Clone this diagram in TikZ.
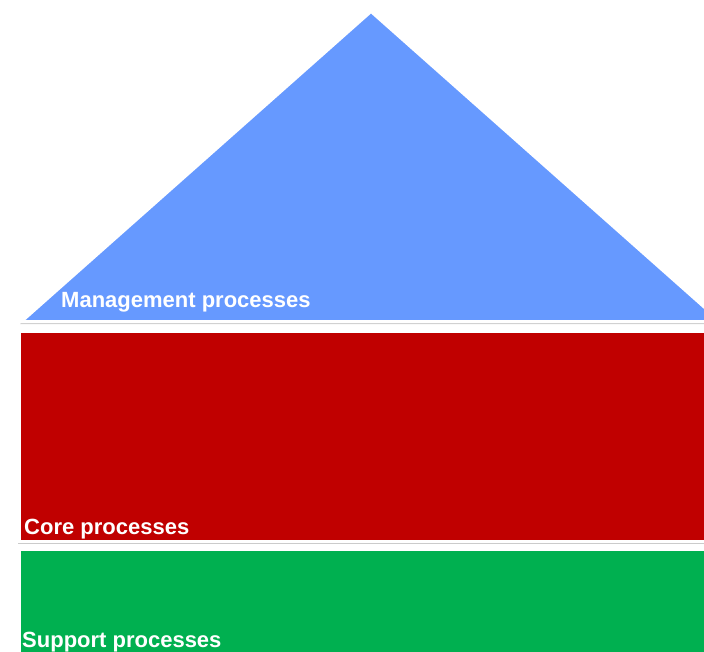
\documentclass[tikz,border=0pt]{standalone}
\usepackage{fontspec}
\setmainfont{Liberation Sans}
\usepackage{tikz}
\usetikzlibrary{shadows}
\definecolor{mgmtblue}{RGB}{102,153,255}
\definecolor{corered}{RGB}{192,0,0}
\definecolor{supportgreen}{RGB}{0,176,80}

\begin{document}
\begin{tikzpicture}[x=1pt,y=-1pt,
  layer/.style={draw=white,line width=3pt,line join=miter,
    drop shadow={shadow xshift=-1.5pt,shadow yshift=-2.5pt,fill=black!45,opacity=0.45}},
  label/.style={anchor=base west,inner sep=0pt,text=white,font=\fontsize{22}{24}\selectfont\bfseries}]
\useasboundingbox (0,0) rectangle (704,651);
\begin{scope}
\clip (0,0) rectangle (704,651);
% roof and the two floors
\fill[layer,fill=supportgreen] (19.5,549.5) rectangle (740,700);
\fill[layer,fill=corered] (19.5,331.5) rectangle (740,541.5);
\fill[layer,fill=mgmtblue] (371,11.5) -- (21.5,321.5) -- (720.5,321.5) -- cycle;
\end{scope}
\node[label] (mgmt) at (61,307) {Management processes};
\node[label] (core) at (24,534) {Core processes};
\node[label] (support) at (22,647) {Support processes};
\end{tikzpicture}
\end{document}
